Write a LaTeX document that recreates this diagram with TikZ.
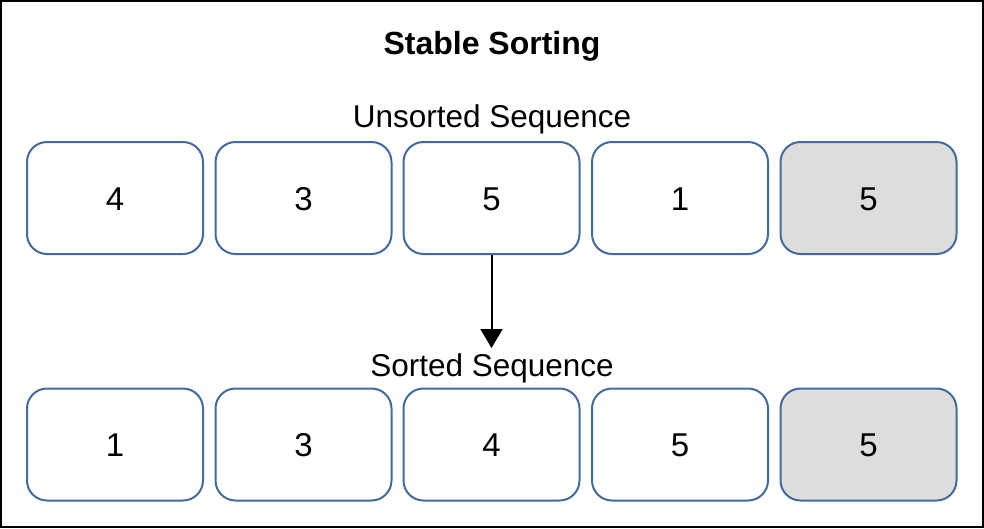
\documentclass[tikz,border=0pt]{standalone}
\usepackage{fontspec}
\setmainfont{Liberation Sans}
\usetikzlibrary{arrows.meta}
\definecolor{boxblue}{RGB}{66,106,156}
\definecolor{boxgrey}{RGB}{221,221,221}
\tikzset{
  cell/.style={draw=boxblue, line width=2pt, rounded corners=20pt, minimum width=176pt, minimum height=112pt, fill=white, inner sep=0pt},
  greycell/.style={cell, fill=boxgrey},
  digit/.style={font=\fontsize{33}{36}\selectfont, inner sep=0pt, anchor=base},
  lbl/.style={font=\fontsize{31.5}{34}\selectfont, inner sep=0pt, anchor=base},
  ttl/.style={font=\fontsize{32}{34}\selectfont\bfseries, inner sep=0pt, anchor=base},
  conn/.style={line width=2pt, -{Triangle[length=19pt,width=22pt]}}
}
\begin{document}
\begin{tikzpicture}[x=1pt,y=-1pt]
\useasboundingbox (0,0) rectangle (984,528);
\draw[line width=2pt] (1,1) rectangle (983,527);
\node[ttl] (title) at (492,54) {Stable Sorting};
\node[lbl] (unsorted) at (492,127) {Unsorted Sequence};
\node[lbl] (sorted) at (492,376) {Sorted Sequence};
\node[cell] (u1) at (115,198) {};
\node[cell] (u2) at (303.5,198) {};
\node[cell] (u3) at (491.5,198) {};
\node[cell] (u4) at (680,198) {};
\node[greycell] (u5) at (868.5,198) {};
\node[cell] (s1) at (115,444.5) {};
\node[cell] (s2) at (303.5,444.5) {};
\node[cell] (s3) at (491.5,444.5) {};
\node[cell] (s4) at (680,444.5) {};
\node[greycell] (s5) at (868.5,444.5) {};
\node[digit] (du1) at (115,210) {4};
\node[digit] (du2) at (303.5,210) {3};
\node[digit] (du3) at (491.5,210) {5};
\node[digit] (du4) at (680,210) {1};
\node[digit] (du5) at (868.5,210) {5};
\node[digit] (ds1) at (115,456.5) {1};
\node[digit] (ds2) at (303.5,456.5) {3};
\node[digit] (ds3) at (491.5,456.5) {4};
\node[digit] (ds4) at (680,456.5) {5};
\node[digit] (ds5) at (868.5,456.5) {5};
\coordinate (arrowend) at (491.5,348);
\draw[conn] (u3.south) -- (arrowend);
\end{tikzpicture}
\end{document}
